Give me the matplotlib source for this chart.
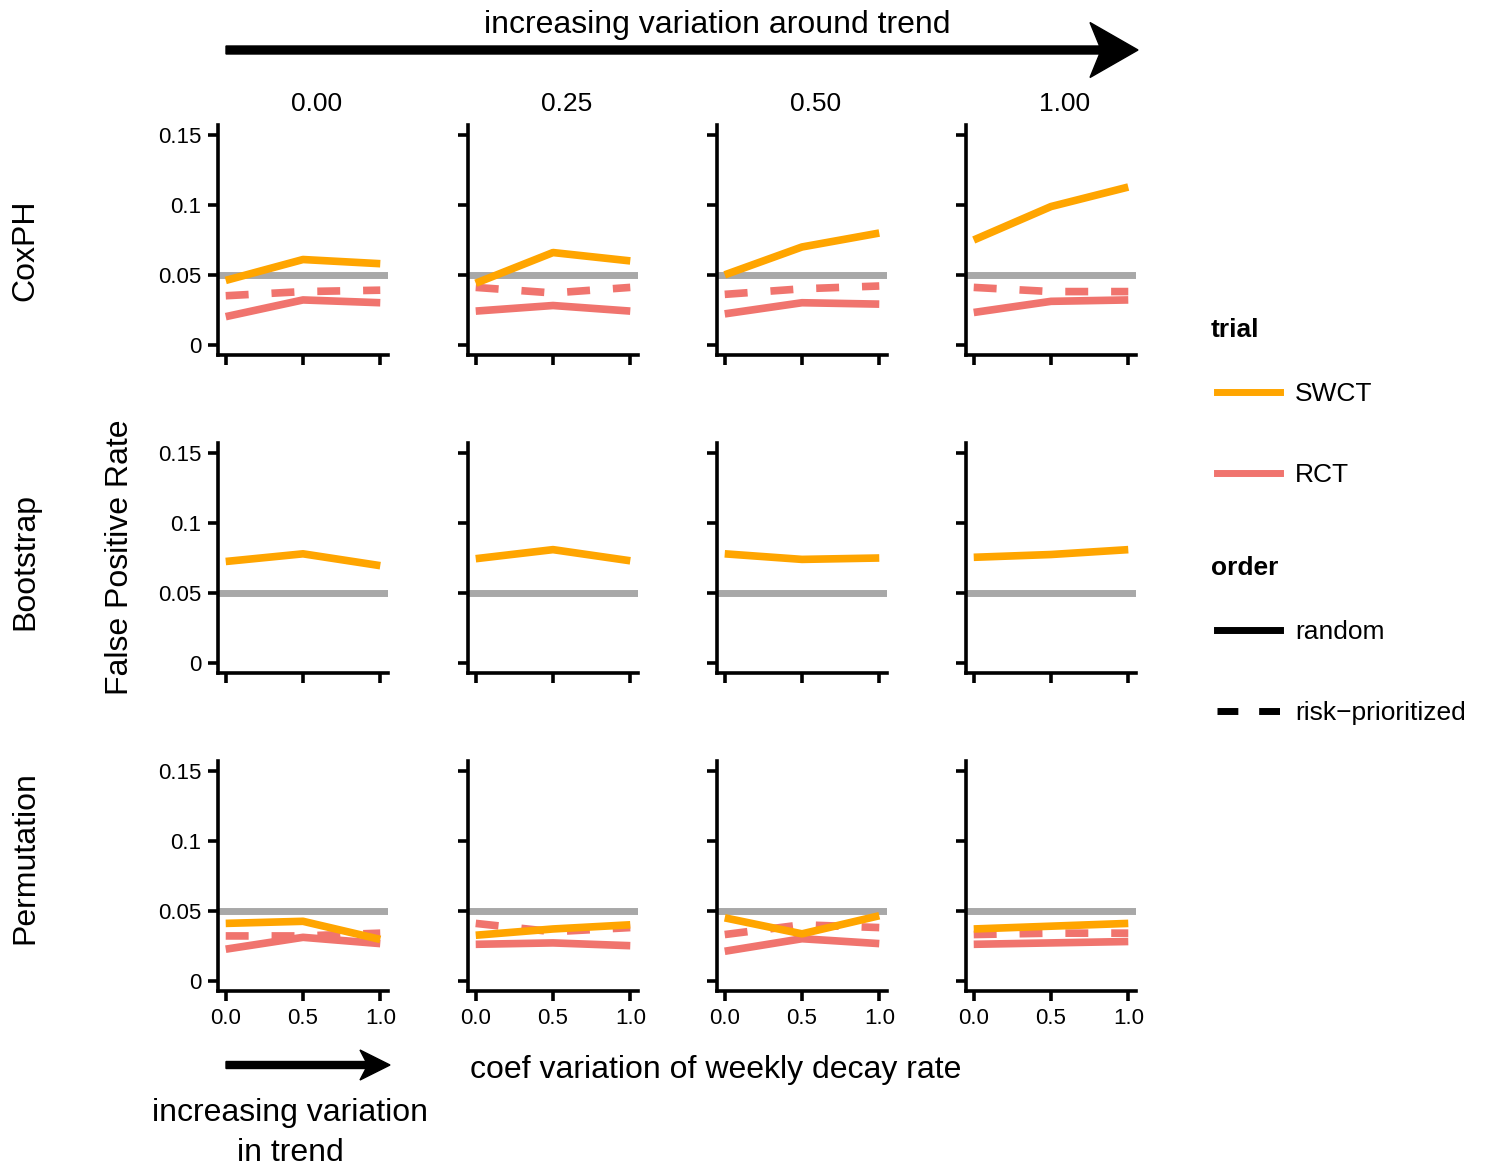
import matplotlib
matplotlib.use("Agg")
import matplotlib.pyplot as plt
from matplotlib.lines import Line2D
from matplotlib.patches import FancyArrow

plt.rcParams['font.family'] = ['Liberation Sans', 'DejaVu Sans']

# data
x_vals = [0.0, 0.5, 1.0]
col_labels = ['0.00', '0.25', '0.50', '1.00']
row_labels = ['CoxPH', 'Bootstrap', 'Permutation']
y_ticks = [0, 0.05, 0.1, 0.15]
y_ticklabels = ['0', '0.05', '0.1', '0.15']
x_ticklabels = ['0.0', '0.5', '1.0']
alpha_level = 0.05

coxph_swct = [[0.046, 0.061, 0.058], [0.044, 0.066, 0.060],
              [0.050, 0.070, 0.080], [0.075, 0.099, 0.113]]
coxph_rct_random = [[0.020, 0.032, 0.030], [0.024, 0.028, 0.024],
                    [0.022, 0.030, 0.029], [0.023, 0.031, 0.032]]
coxph_rct_risk = [[0.035, 0.038, 0.039], [0.041, 0.037, 0.041],
                  [0.036, 0.040, 0.042], [0.041, 0.038, 0.038]]

boot_swct = [[0.0725, 0.078, 0.0695], [0.0745, 0.081, 0.073],
             [0.078, 0.074, 0.075], [0.0755, 0.0775, 0.081]]

perm_swct = [[0.041, 0.0425, 0.0295], [0.0325, 0.037, 0.040],
             [0.045, 0.0335, 0.0465], [0.037, 0.039, 0.041]]
perm_rct_random = [[0.0225, 0.031, 0.0265], [0.026, 0.027, 0.025],
                   [0.021, 0.030, 0.0265], [0.026, 0.027, 0.028]]
perm_rct_risk = [[0.032, 0.032, 0.034], [0.041, 0.035, 0.038],
                 [0.033, 0.040, 0.038], [0.033, 0.034, 0.034]]

# per row: (swct, rct random, rct risk-prioritized)
row_data = [(coxph_swct, coxph_rct_random, coxph_rct_risk),
            (boot_swct, None, None),
            (perm_swct, perm_rct_random, perm_rct_risk)]

ORANGE = '#FFA500'
SALMON = '#F0746E'
GREY = '#A8A8A8'
LW = 5.5
DASH = (0, (3, 3))

W, H = 1496, 1165
fig = plt.figure(figsize=(W / 100, H / 100), dpi=100)

col_left = [218, 468, 717, 966]
row_top = [125, 443, 761]
row_label_y = [250, 561, 858]
pw, ph = 170, 230

for i, top in enumerate(row_top):
    swct, rct_rand, rct_risk = row_data[i]
    for j, left in enumerate(col_left):
        ax = fig.add_axes([left / W, 1 - (top + ph) / H, pw / W, ph / H])
        ax.axhline(alpha_level, color=GREY, lw=5, zorder=1)
        if rct_rand is not None:
            ax.plot(x_vals, rct_rand[j], color=SALMON, lw=LW, solid_capstyle='butt', zorder=2)
            ax.plot(x_vals, rct_risk[j], color=SALMON, lw=LW, ls=DASH, dash_capstyle='butt', zorder=2)
        ax.plot(x_vals, swct[j], color=ORANGE, lw=LW, solid_capstyle='butt', zorder=3)

        ax.set_xlim(-0.05, 1.05)
        ax.set_ylim(-0.0075, 0.1575)
        ax.set_xticks(x_vals)
        ax.set_yticks(y_ticks)
        ax.set_xticklabels(x_ticklabels if i == 2 else [])
        ax.set_yticklabels(y_ticklabels if j == 0 else [])
        for s in ['top', 'right']:
            ax.spines[s].set_visible(False)
        for s in ['left', 'bottom']:
            ax.spines[s].set_linewidth(2.6)
        ax.tick_params(direction='out', length=7, width=2.6, labelsize=16, pad=5)

        if i == 0:
            ax.text(0.58, 1.09, col_labels[j], transform=ax.transAxes,
                    ha='center', va='center', fontsize=19)
    fig.text(25 / W, 1 - row_label_y[i] / H, row_labels[i], rotation=90,
             ha='center', va='center', fontsize=23)

fig.text(120 / W, 1 - 557 / H, 'False Positive Rate', rotation=90,
         ha='center', va='center', fontsize=23)
fig.text(716 / W, 1 - 1070 / H, 'coef variation of weekly decay rate',
         ha='center', va='center', fontsize=23)
fig.text(290 / W, 1 - 1133 / H, 'increasing variation\nin trend',
         ha='center', va='center', fontsize=23, linespacing=1.4)
fig.text(717 / W, 1 - 25 / H, 'increasing variation around trend',
         ha='center', va='center', fontsize=23)

# overlay in pixel units for the arrows
ov = fig.add_axes([0, 0, 1, 1])
ov.set_xlim(0, W)
ov.set_ylim(H, 0)
ov.axis('off')
ov.add_patch(FancyArrow(226, 50, 912, 0, width=8, head_width=55, head_length=48,
                        overhang=0.2, length_includes_head=True, color='black'))
ov.add_patch(FancyArrow(226, 1065, 164, 0, width=7, head_width=30, head_length=30,
                        overhang=0.2, length_includes_head=True, color='black'))

trial_handles = [Line2D([], [], color=ORANGE, lw=5),
                 Line2D([], [], color=SALMON, lw=5)]
order_handles = [Line2D([], [], color='black', lw=5),
                 Line2D([], [], color='black', lw=5, ls=DASH)]

leg_kw = dict(loc='upper left', frameon=False, fontsize=19,
              handlelength=2.4, handletextpad=0.55, labelspacing=2.15,
              borderpad=0, borderaxespad=0)
fig.legend(trial_handles, ['SWCT', 'RCT'],
           bbox_to_anchor=(1217 / W, 1 - 382 / H), **leg_kw)
fig.legend(order_handles, ['random', 'risk\u2212prioritized'],
           bbox_to_anchor=(1217 / W, 1 - 620 / H), **leg_kw)
fig.text(1211 / W, 1 - 330 / H, 'trial', fontsize=19, fontweight='bold',
         ha='left', va='center')
fig.text(1211 / W, 1 - 568 / H, 'order', fontsize=19, fontweight='bold',
         ha='left', va='center')

fig.savefig('out.png', dpi=100)
